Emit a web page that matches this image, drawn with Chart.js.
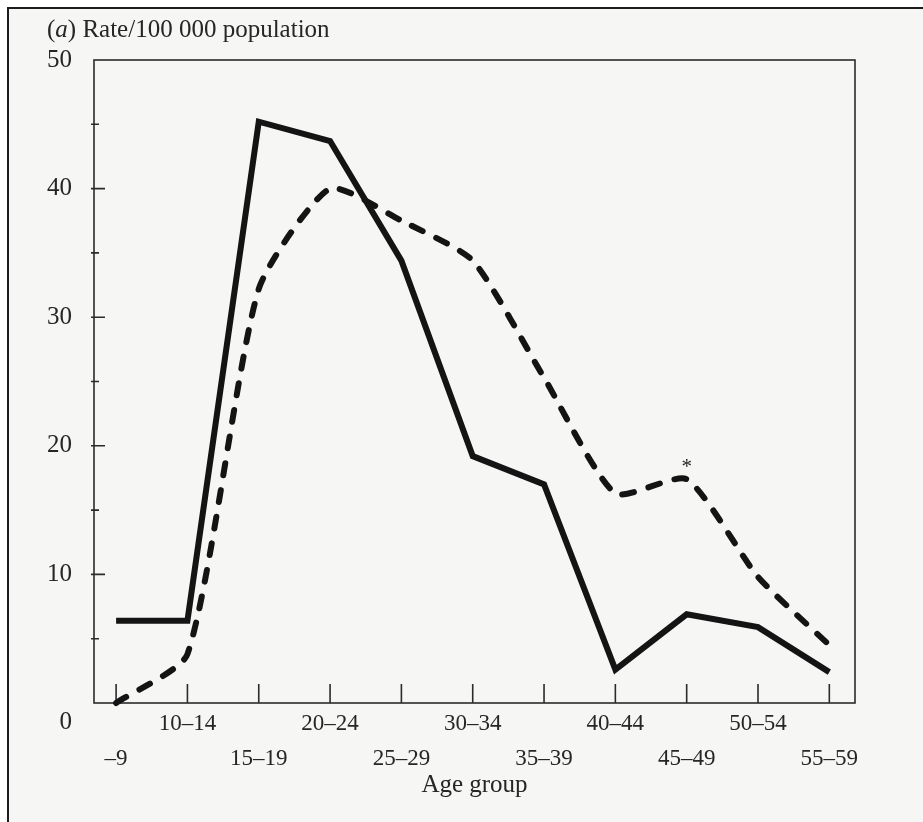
<!DOCTYPE html>
<html>
<head>
<meta charset="utf-8">
<title>Rate per 100 000 population by age group</title>
<script src="https://cdn.jsdelivr.net/npm/chart.js@4/dist/chart.umd.min.js"></script>
<style>
    html, body { margin: 0; padding: 0; background: #ffffff; overflow: hidden; }
    #wrap { position: relative; width: 923px; height: 822px; }
    #paper {
        position: absolute; left: 7px; top: 7px; width: 930px; height: 830px;
        background: #f6f6f5;
        border-top: 2px solid #1c1c1c; border-left: 2px solid #1c1c1c;
    }
    #rate-chart { position: absolute; left: 0; top: 0; }
</style>
</head>
<body>
<div id="wrap">
    <div id="paper"></div>
    <canvas id="rate-chart" width="923" height="822"></canvas>
</div>
<script>
const ageGroups = ['–9', '10–14', '15–19', '20–24', '25–29', '30–34', '35–39', '40–44', '45–49', '50–54', '55–59'];
const solidRates = [6.4, 6.4, 45.2, 43.7, 34.4, 19.2, 17.0, 2.6, 6.9, 5.9, 2.4];
const dashedRates = [0, 3.8, 32.2, 40.0, 37.5, 34.4, 25.3, 16.3, 17.4, 9.8, 4.5];
const yTicks = [0, 10, 20, 30, 40, 50];
const yMinorStep = 5;
const starredGroup = '45–49';

const ink = '#262626';
const serif = '"Liberation Serif", "DejaVu Serif", serif';

const toPoints = (values) => values.map((v, i) => ({ x: i, y: v }));

const paperMarks = {
    id: 'paperMarks',
    beforeDatasetsDraw(chart) {
        const { ctx, chartArea: a, scales: { x, y } } = chart;
        ctx.save();
        ctx.strokeStyle = '#2b2b2b';
        ctx.lineWidth = 1.6;
        ctx.strokeRect(a.left, a.top, a.width, a.height);

        // tick marks point inward, like the printed figure
        ctx.beginPath();
        x.ticks.forEach((t) => {
            const px = x.getPixelForValue(t.value);
            ctx.moveTo(px, a.bottom);
            ctx.lineTo(px, a.bottom - 19);
        });
        for (let v = yMinorStep; v < y.max; v += yMinorStep) {
            const py = y.getPixelForValue(v);
            const major = yTicks.includes(v);
            ctx.moveTo(a.left - 3, py);
            ctx.lineTo(a.left + (major ? 11 : 5), py);
        }
        ctx.stroke();
        ctx.restore();
    },
    afterDraw(chart) {
        const { ctx, scales: { x, y } } = chart;
        ctx.save();
        ctx.fillStyle = ink;
        ctx.textBaseline = 'alphabetic';

        let tx = 47;
        const ty = 37;
        ctx.font = `25px ${serif}`;
        ctx.fillText('(', tx, ty);
        tx += ctx.measureText('(').width;
        ctx.font = `italic 25px ${serif}`;
        ctx.fillText('a', tx, ty);
        tx += ctx.measureText('a').width;
        ctx.font = `25px ${serif}`;
        ctx.fillText(') Rate/100 000 population', tx, ty);

        const i = ageGroups.indexOf(starredGroup);
        ctx.font = `21px ${serif}`;
        ctx.textAlign = 'center';
        ctx.fillText('*', x.getPixelForValue(i), y.getPixelForValue(dashedRates[i]) - 6);
        ctx.restore();
    },
};

const ctx = document.getElementById('rate-chart').getContext('2d');

new Chart(ctx, {
    type: 'line',
    data: {
        datasets: [
            {
                data: toPoints(solidRates),
                borderColor: '#141414',
                borderWidth: 6,
                borderJoinStyle: 'miter',
                pointRadius: 0,
                tension: 0,
                clip: false,
            },
            {
                data: toPoints(dashedRates),
                borderColor: '#141414',
                borderWidth: 6,
                borderDash: [12, 15],
                borderCapStyle: 'round',
                pointRadius: 0,
                tension: 0.2,
                clip: false,
            },
        ],
    },
    options: {
        responsive: false,
        animation: false,
        layout: { padding: { top: 60, right: 68, bottom: 0, left: 0 } },
        plugins: {
            legend: { display: false },
            tooltip: { enabled: false },
        },
        scales: {
            x: {
                type: 'linear',
                min: -0.31,
                max: 10.36,
                afterBuildTicks: (scale) => { scale.ticks = ageGroups.map((_, i) => ({ value: i })); },
                afterFit: (scale) => { scale.height = 119; },
                grid: { display: false, drawTicks: false },
                border: { display: false },
                ticks: {
                    padding: 3,
                    autoSkip: false,
                    maxRotation: 0,
                    color: ink,
                    font: { family: serif, size: 23, lineHeight: '35px' },
                    callback: (value) => {
                        const label = ageGroups[value];
                        return value % 2 ? label : ['', label];
                    },
                },
                title: {
                    display: true,
                    text: 'Age group',
                    color: ink,
                    font: { family: serif, size: 25 },
                    padding: { top: 0, bottom: 22 },
                },
            },
            y: {
                min: 0,
                max: 50,
                afterBuildTicks: (scale) => { scale.ticks = yTicks.map((v) => ({ value: v })); },
                afterFit: (scale) => { scale.width = 94; },
                grid: { display: false, drawTicks: false },
                border: { display: false },
                ticks: {
                    padding: 22,
                    color: ink,
                    font: { family: serif, size: 25, lineHeight: '38px' },
                    callback: (value) => (value === 0 ? ['', '0'] : String(value)),
                },
            },
        },
    },
    plugins: [paperMarks],
});
</script>
</body>
</html>
